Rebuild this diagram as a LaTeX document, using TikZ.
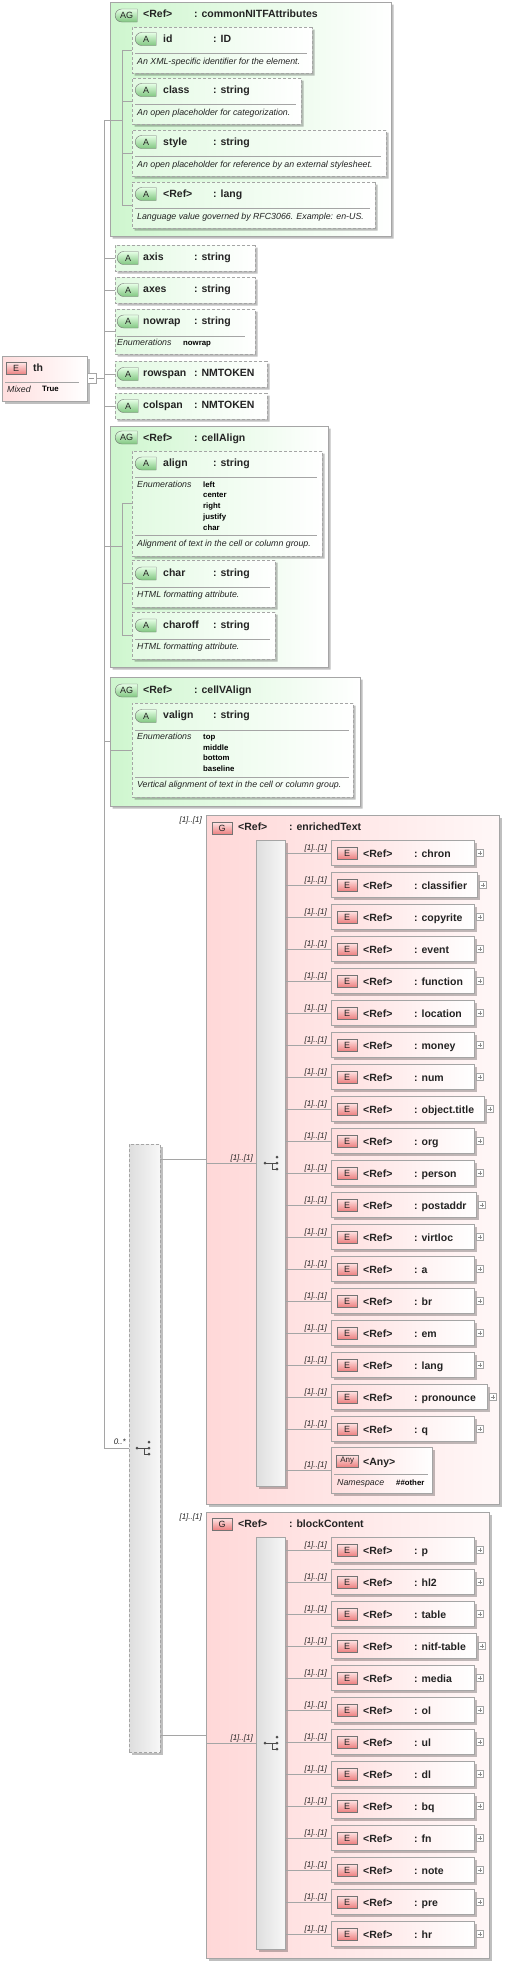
\documentclass[tikz,border=0pt]{standalone}
\usepackage{fontspec}
\setmainfont{Liberation Sans}
\usetikzlibrary{positioning, shapes.misc, shadows, calc}
\definecolor{agfill}{RGB}{206,246,206}
\definecolor{atfill}{RGB}{226,250,226}
\definecolor{elfill}{RGB}{255,222,222}
\definecolor{grfill}{RGB}{255,216,216}
\definecolor{edge}{RGB}{165,165,165}
\definecolor{ink}{RGB}{35,35,35}
\definecolor{abot}{RGB}{128,198,128}
\definecolor{ebot}{RGB}{236,128,128}
\tikzset{
  shd/.style={drop shadow={shadow xshift=2.5pt, shadow yshift=-2.5pt, fill=black, opacity=.25}},
  box/.style={inner sep=0, outer sep=0, anchor=north west, shd},
  cut/.style={chamfered rectangle, chamfered rectangle corners={north west, south west}, chamfered rectangle sep=#1},
  agbox/.style={box, cut=11pt, draw=edge, left color=agfill, right color=white},
  atbox/.style={box, cut=5pt, draw=edge, dash pattern=on 3pt off 2pt, left color=atfill, right color=white},
  elbox/.style={box, draw=edge, left color=elfill, right color=white},
  grbox/.style={box, draw=edge, left color=grfill, right color=red!3},
  barbox/.style={box, draw=edge, left color=black!13, right color=black!3},
  hd/.style={inner sep=0, anchor=base west, font=\fontsize{10.5}{12}\selectfont\bfseries, text=ink},
  ds/.style={inner sep=0, anchor=base west, font=\fontsize{8.8}{10}\selectfont\itshape, text=ink},
  en/.style={inner sep=0, anchor=base west, font=\fontsize{7.8}{9}\selectfont\bfseries, text=black},
  card/.style={inner sep=0, anchor=base east, font=\fontsize{8}{9}\selectfont\itshape, text=ink},
  rule/.style={draw=edge, line width=.6pt},
  conn/.style={draw=edge, line width=.7pt},
  badge/.style={inner sep=0, anchor=west, minimum width=21pt, minimum height=13pt, draw=black!55, font=\fontsize{9}{10}\selectfont, text=ink},
  abadge/.style={badge, rounded rectangle, rounded rectangle right arc=none, top color=green!10, bottom color=abot},
  ebadge/.style={badge, rectangle, minimum width=20pt, minimum height=12pt, top color=red!10, bottom color=ebot},
  plusbox/.style={draw=edge, minimum size=7pt, inner sep=0, anchor=west, fill=white,
    path picture={\draw[black!45] ([xshift=1.5pt]path picture bounding box.west) -- ([xshift=-1.5pt]path picture bounding box.east)
      ([yshift=1.5pt]path picture bounding box.south) -- ([yshift=-1.5pt]path picture bounding box.north);}},
  togbox/.style={draw=edge, minimum width=9pt, minimum height=10pt, inner sep=0, anchor=west, fill=white,
    path picture={\draw[black!40] ([xshift=2pt]path picture bounding box.west) -- ([xshift=-2pt]path picture bounding box.east);}},
  seqsym/.pic={
    \draw[black!70, line width=.8pt] (-7,0) -- (4,0) (0,0) -- (0,6) -- (4,6);
    \fill[black!70] (-7,0) circle (1.5pt) (5,-6) circle (1.5pt) (5,0) circle (1.5pt) (5,6) circle (1.5pt);}
}
\begin{document}
\begin{tikzpicture}[x=1pt, y=-1pt]
\useasboundingbox (0,0) rectangle (506,1966);

\node[elbox, minimum width=85, minimum height=45] (th) at (2,356) {};
\node[ebadge] at (6,368.5) {E};
\node[hd] at (33,371) {th};
\draw[rule] (5,382) -- (79,382);
\node[ds] at (7,392) {Mixed};
\node[en] at (42,391.5) {True};
\node[togbox] (thtog) at (th.east) {};

\coordinate (trunk) at (104,120);
\coordinate (trunkend) at (104,1448);
\draw[conn] (trunk) -- (trunkend);
\draw[conn] (thtog.east) -- (thtog.east -| trunk);

% commonNITFAttributes
\node[agbox, minimum width=281, minimum height=234] (cna) at (110,2) {};
\node[abadge, minimum width=22pt] at (115,15.5) {AG};
\node[hd] at (143,17) {<Ref>};
\node[hd] at (194,17) {: commonNITFAttributes};
\foreach \nm/\ty/\y/\w/\d [count=\i] in {id/ID/27/180/{An XML-specific identifier for the element.},
    class/string/78/169/{An open placeholder for categorization.},
    style/string/130/254/{An open placeholder for reference by an external stylesheet.},
    <Ref>/lang/182/243/{Language value governed by RFC3066. Example: en-US.}}{
  \node[atbox, minimum width=\w, minimum height=46] (cna\i) at (132,\y) {};
  \node[abadge] at (135,\y+12) {A};
  \node[hd] at (163,\y+15.5) {\nm};
  \node[hd] at (213,\y+15.5) {: \ty};
  \draw[rule] (135,\y+26) -- (127+\w,\y+26);
  \node[ds] at (137,\y+37) {\d};
}
\draw[conn] (cna1.west) -- ++(-10,0) |- (cna4.west) (cna2.west) -- ++(-10,0) (cna3.west) -- ++(-10,0);
\draw[conn] (trunk) -- ++(18,0);

% plain attributes
\foreach \nm/\ty/\y/\w in {axis/string/245/140, axes/string/277/140, rowspan/NMTOKEN/361/152, colspan/NMTOKEN/393/152}{
  \node[atbox, minimum width=\w, minimum height=26] (a\nm) at (115,\y) {};
  \node[abadge] at (117,\y+13) {A};
  \node[hd] at (143,\y+15) {\nm};
  \node[hd] at (194,\y+15) {: \ty};
}
\node[atbox, minimum width=140, minimum height=45] (anowrap) at (115,309) {};
\node[abadge] at (117,321.5) {A};
\node[hd] at (143,324) {nowrap};
\node[hd] at (194,324) {: string};
\draw[rule] (117,336) -- (245,336);
\node[ds] at (117,345) {Enumerations};
\node[en] at (183,345) {nowrap};

% cellAlign
\node[agbox, minimum width=218, minimum height=241] (cal) at (110,426) {};
\node[abadge, minimum width=22pt] at (115,437.5) {AG};
\node[hd] at (143,441) {<Ref>};
\node[hd] at (194,441) {: cellAlign};
\node[atbox, minimum width=190, minimum height=105] (calign) at (132,451) {};
\node[abadge] at (135,463.5) {A};
\node[hd] at (163,466) {align};
\node[hd] at (213,466) {: string};
\draw[rule] (135,477) -- (317,477);
\node[ds] at (137,487) {Enumerations};
\foreach \v [count=\k from 0] in {left,center,right,justify,char}
  \node[en] at (203,487+10.8*\k) {\v};
\draw[rule] (135,535) -- (317,535);
\node[ds] at (137,546) {Alignment of text in the cell or column group.};
\foreach \nm/\y [count=\i] in {char/560, charoff/612}{
  \node[atbox, minimum width=143, minimum height=47] (cal\i) at (132,\y) {};
  \node[abadge] at (135,\y+13.5) {A};
  \node[hd] at (163,\y+16) {\nm};
  \node[hd] at (213,\y+16) {: string};
  \draw[rule] (135,\y+27.5) -- (270,\y+27.5);
  \node[ds] at (137,\y+37.5) {HTML formatting attribute.};
}
\draw[conn] (calign.west) -- ++(-10,0) |- (cal2.west) (cal1.west) -- ++(-10,0);
\draw[conn] (cal.west -| trunk) -- ++(18,0);

% cellVAlign
\node[agbox, minimum width=250, minimum height=129] (cva) at (110,677) {};
\node[abadge, minimum width=22pt] at (115,690.5) {AG};
\node[hd] at (143,693) {<Ref>};
\node[hd] at (194,693) {: cellVAlign};
\node[atbox, minimum width=221, minimum height=94] (cvalign) at (132,703) {};
\node[abadge] at (135,716) {A};
\node[hd] at (163,718) {valign};
\node[hd] at (213,718) {: string};
\draw[rule] (135,730) -- (349,730);
\node[ds] at (137,739.5) {Enumerations};
\foreach \v [count=\k from 0] in {top,middle,bottom,baseline}
  \node[en] at (203,739.5+10.7*\k) {\v};
\draw[rule] (135,777) -- (349,777);
\node[ds] at (137,787) {Vertical alignment of text in the cell or column group.};
\draw[conn] (cvalign.west) -- (cvalign.west -| cva.west);

\foreach \n in {aaxis, aaxes, anowrap, arowspan, acolspan, cva}
  \draw[conn] (\n.west -| trunk) -- (\n.west);

% choice
\node[barbox, dash pattern=on 3pt off 2pt, minimum width=31, minimum height=608] (choice) at (129,1144) {};
\pic at (144,1448) {seqsym};
\draw[conn] (trunkend) -- (choice.west);
\node[card] at (126,1444) {0..*};

% enrichedText
\node[grbox, minimum width=293, minimum height=689] (enr) at (206,815) {};
\node[card] at (202,822) {[1]..[1]};
\node[ebadge] at (212,828) {G};
\node[hd] at (238,830) {<Ref>};
\node[hd] at (289,830) {: enrichedText};
\node[barbox, minimum width=29, minimum height=646] (enrbar) at (256,840) {};
\pic at ([xshift=1.5pt]enrbar.center) {seqsym};
\draw[conn] (enr.west -| choice.east) -- (enr.west);
\draw[conn] (enrbar.west) -- (enrbar.west -| enr.west);
\node[card] at ([xshift=-3pt,yshift=3pt]enrbar.west) {[1]..[1]};
\foreach \nm/\w [count=\i from 0] in {chron/143, classifier/146, copyrite/143, event/143, function/143,
    location/143, money/143, num/143, object.title/153, org/143, person/143, postaddr/145, virtloc/143,
    a/143, br/143, em/143, lang/143, pronounce/156, q/143}{
  \node[elbox, minimum width=\w, minimum height=25] (et\i) at (331,840.5+32*\i) {};
  \node[ebadge] at (337,853+32*\i) {E};
  \node[hd] at (363,857+32*\i) {<Ref>};
  \node[hd] at (414,857+32*\i) {: \nm};
  \node[plusbox] at ([xshift=2pt]et\i.east) {};
  \draw[conn] (et\i.west -| enrbar.east) -- (et\i.west);
  \node[card] at ([xshift=-4pt,yshift=3pt]et\i.west) {[1]..[1]};
}
\node[elbox, minimum width=101, minimum height=46] (etany) at (331,1447) {};
\node[ebadge, minimum width=22pt, font=\fontsize{8}{9}\selectfont] at (336,1461) {Any};
\node[hd] at (363,1465) {<Any>};
\draw[rule] (334,1474) -- (428,1474);
\node[ds] at (337,1485) {Namespace};
\node[en] at (396,1485) {\#\#other};
\draw[conn] (etany.west -| enrbar.east) -- (etany.west);
\node[card] at ([xshift=-4pt,yshift=3pt]etany.west) {[1]..[1]};

% blockContent
\node[grbox, minimum width=283, minimum height=446] (blc) at (206,1512) {};
\node[card] at (202,1519) {[1]..[1]};
\node[ebadge] at (212,1524) {G};
\node[hd] at (238,1527) {<Ref>};
\node[hd] at (289,1527) {: blockContent};
\node[barbox, minimum width=29, minimum height=412] (blcbar) at (256,1537) {};
\pic at ([xshift=1.5pt]blcbar.center) {seqsym};
\draw[conn] (blc.west -| choice.east) -- (blc.west);
\draw[conn] (blcbar.west) -- (blcbar.west -| blc.west);
\node[card] at ([xshift=-3pt,yshift=3pt]blcbar.west) {[1]..[1]};
\foreach \nm/\w [count=\i from 0] in {p/143, hl2/143, table/143, nitf-table/145, media/143, ol/143, ul/143,
    dl/143, bq/143, fn/143, note/143, pre/143, hr/143}{
  \node[elbox, minimum width=\w, minimum height=25] (bc\i) at (331,1537.5+32*\i) {};
  \node[ebadge] at (337,1550+32*\i) {E};
  \node[hd] at (363,1554+32*\i) {<Ref>};
  \node[hd] at (414,1554+32*\i) {: \nm};
  \node[plusbox] at ([xshift=2pt]bc\i.east) {};
  \draw[conn] (bc\i.west -| blcbar.east) -- (bc\i.west);
  \node[card] at ([xshift=-4pt,yshift=3pt]bc\i.west) {[1]..[1]};
}
\end{tikzpicture}
\end{document}
